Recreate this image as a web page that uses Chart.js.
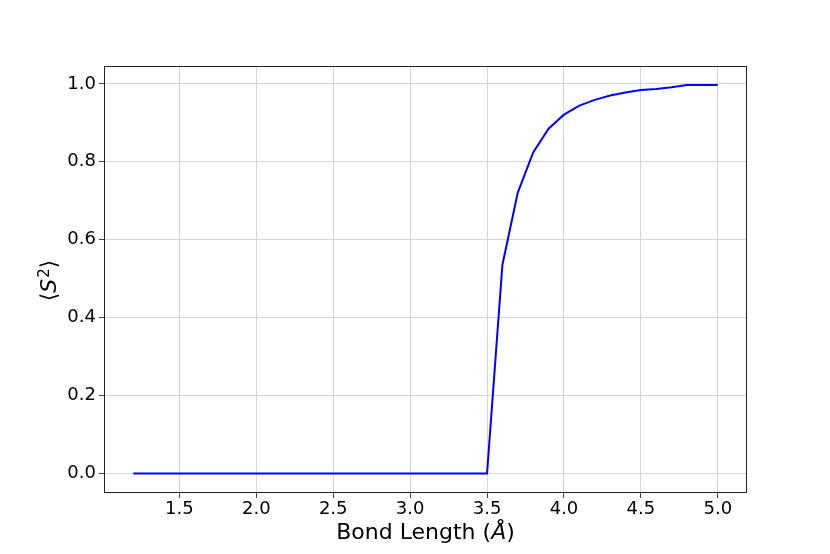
<!DOCTYPE html>
<html>
<head>
<meta charset="utf-8">
<script src="https://cdn.jsdelivr.net/npm/chart.js@4/dist/chart.umd.min.js"></script>
<style>
  body { margin: 0; background: #fff; }
  #c { display: block; }
</style>
</head>
<body>
<canvas id="c" width="830" height="554"></canvas>
<script>
// data
var bondLength = [1.2, 1.3, 1.4, 1.5, 1.6, 1.7, 1.8, 1.9, 2.0, 2.1, 2.2, 2.3, 2.4,
                  2.5, 2.6, 2.7, 2.8, 2.9, 3.0, 3.1, 3.2, 3.3, 3.4, 3.5, 3.6, 3.7,
                  3.8, 3.9, 4.0, 4.1, 4.2, 4.3, 4.4, 4.5, 4.6, 4.7, 4.8, 4.9, 5.0]
var s2 = [0, 0, 0, 0, 0, 0, 0, 0, 0, 0, 0, 0, 0,
          0, 0, 0, 0, 0, 0, 0, 0, 0, 0, 0, 0.536, 0.721,
          0.824, 0.885, 0.921, 0.944, 0.959, 0.970, 0.978, 0.984, 0.987, 0.991, 0.997, 0.997, 0.997]
var xTicks = [1.5, 2.0, 2.5, 3.0, 3.5, 4.0, 4.5, 5.0]
var yTicks = [0.0, 0.2, 0.4, 0.6, 0.8, 1.0]
var xTitle = [['Bond Length (', 'normal', 0], ['Å', 'italic', 0], [')', 'normal', 0]]
var yTitle = [['⟨', 'normal', 0], ['S', 'italic', 0], ['2', 'super', 0], ['⟩', 'normal', 0]]

var pts = []
for (var i = 0; i < bondLength.length; i++) {
    pts.push({x: bondLength[i], y: s2[i]})
}

var FAM = 'DejaVu Sans'
var TS = 22

function partFont(p) {
    if (p[1] == 'italic') return 'italic ' + TS + 'px "' + FAM + '"'
    if (p[1] == 'super') return (TS * 0.68) + 'px "' + FAM + '"'
    return TS + 'px "' + FAM + '"'
}

// draws a mathtext-like label centred on 0, baseline 0
function drawParts(c, parts) {
    var w = 0
    for (var i = 0; i < parts.length; i++) {
        c.font = partFont(parts[i])
        w += c.measureText(parts[i][0]).width + (parts[i][1] == 'super' ? 1 : 0)
    }
    var x = -w / 2
    c.textBaseline = 'alphabetic'
    c.textAlign = 'left'
    c.fillStyle = '#000'
    for (var j = 0; j < parts.length; j++) {
        c.font = partFont(parts[j])
        var dy = parts[j][1] == 'super' ? -7 : 0
        if (parts[j][1] == 'super') x += 1
        c.fillText(parts[j][0], x, dy)
        x += c.measureText(parts[j][0]).width
    }
}

// frame round the plot area + axis titles
var frame = {
    id: 'frame',
    afterDraw: function(chart) {
        var a = chart.chartArea
        var c = chart.ctx
        c.save()
        c.strokeStyle = '#222'
        c.lineWidth = 1
        c.strokeRect(a.left + 0.5, a.top + 0.5, a.right - a.left - 1, a.bottom - a.top - 1)
        c.restore()

        c.save()
        c.translate((a.left + a.right) / 2, 539)
        drawParts(c, xTitle)
        c.restore()

        c.save()
        c.translate(56, (a.top + a.bottom) / 2 + 1)
        c.rotate(-Math.PI / 2)
        drawParts(c, yTitle)
        c.restore()
    }
}

var tickFont = {family: FAM, size: 18}

const ctx = document.getElementById('c');
const myChart = new Chart(ctx, {
    type: 'line',
    data: {
        datasets: [{
            data: pts,
            borderColor: '#0000ff',
            borderWidth: 2,
            pointRadius: 0,
            tension: 0,
            fill: false
        }]
    },
    options: {
        responsive: false,
        animation: false,
        layout: {padding: {left: 0, top: 66, right: 83, bottom: 0}},
        plugins: {legend: {display: false}, tooltip: {enabled: false}},
        scales: {
            x: {
                type: 'linear',
                min: 1.01,
                max: 5.19,
                afterBuildTicks: function(s) {
                    s.ticks = xTicks.map(function(v) { return {value: v} })
                },
                afterFit: function(s) { s.height = 61 },
                border: {display: false},
                grid: {color: '#d5d5d5', lineWidth: 1, tickLength: 5, tickColor: '#444'},
                ticks: {
                    color: '#000', font: tickFont, padding: 1, maxRotation: 0,
                    callback: function(v) { return v.toFixed(1) }
                }
            },
            y: {
                min: -0.0498,
                max: 1.0458,
                afterBuildTicks: function(s) {
                    s.ticks = yTicks.map(function(v) { return {value: v} })
                },
                afterFit: function(s) { s.width = 104 },
                border: {display: false},
                grid: {color: '#d5d5d5', lineWidth: 1, tickLength: 5, tickColor: '#444'},
                ticks: {
                    color: '#000', font: tickFont, padding: 3,
                    callback: function(v) { return v.toFixed(1) }
                }
            }
        }
    },
    plugins: [frame]
});
</script>
</body>
</html>
